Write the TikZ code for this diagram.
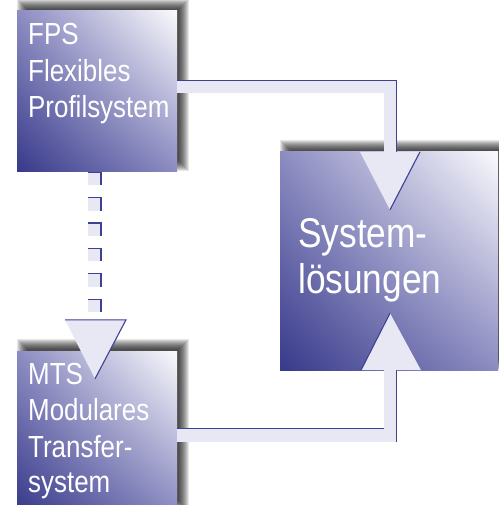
\documentclass[tikz,border=0pt]{standalone}
\usepackage{fontspec}
\newfontfamily\narrowsans[FakeStretch=0.85]{Liberation Sans}
\usetikzlibrary{calc,backgrounds,shadings}
\definecolor{boxdark}{RGB}{56,58,138}
\definecolor{boxmid}{RGB}{140,140,194}
\definecolor{boxlight}{RGB}{250,250,253}
\definecolor{bandc}{RGB}{232,232,244}
\definecolor{edgec}{RGB}{62,64,148}
\begin{document}
\begin{tikzpicture}[x=1pt,y=-1pt,
  box/.style={rectangle, inner sep=0pt, shade, lower left=boxdark, upper right=boxlight, upper left=boxmid, lower right=boxmid},
  lbl/.style={text=white, font=\narrowsans\fontsize{30.5}{36}\selectfont, inner sep=0pt, anchor=base west},
  biglbl/.style={text=white, font=\narrowsans\fontsize{41.5}{46}\selectfont, inner sep=0pt, anchor=base west},
  band/.style={draw=bandc, line width=13pt, line cap=butt, line join=miter},
  edgeline/.style={draw=edgec, line width=1.1pt},
  arrowtri/.style={fill=bandc},
  shadowlayer/.style={fill=black, opacity=0.1},
]
\useasboundingbox (0,0) rectangle (498,505);

% boxes
\node[box, minimum width=160pt, minimum height=160pt] (fps) at (97,91) {};
\node[box, minimum width=160pt, minimum height=160pt] (mts) at (97,431) {};
\node[box, minimum width=218pt, minimum height=218pt] (sys) at (389,261) {};

% shadows
\begin{scope}[on background layer]
\foreach \n in {fps,mts,sys}{
  \foreach \d in {-6,...,4}{
    \fill[shadowlayer] ($(\n.south west)+(6+\d,-6-\d)$) rectangle ($(\n.north east)+(6-\d,-6+\d)$);
  }
}
\end{scope}

% connector FPS -> Systemloesungen
\draw[band] ($(fps.east)+(0,-4)$) -| ($(sys.north)+(1,0)$);
\draw[edgeline] ($(fps.east)+(0,-10.5)$) -| ($(sys.north)+(7.5,0)$);
\fill[arrowtri] ($(sys.north)+(-29,0)$) -- ($(sys.north)+(31,0)$) -- ($(sys.north)+(1,58)$) -- cycle;
\draw[edgeline] ($(sys.north)+(31,0)$) -- ($(sys.north)+(1,58)$);

% connector MTS -> Systemloesungen
\draw[band] ($(mts.east)+(0,4)$) -| ($(sys.south)+(1,0)$);
\draw[edgeline] ($(mts.east)+(0,-2.5)$) -- ($(sys.south |- 0,428.5)+(-5.5,0)$);
\draw[edgeline] ($(sys.south)+(7.5,0)$) -- ($(sys.south |- 0,441.5)+(7.5,0)$);
\fill[arrowtri] ($(sys.south)+(-28,0)$) -- ($(sys.south)+(32,0)$) -- ($(sys.south)+(1,-57)$) -- cycle;
\draw[edgeline] ($(sys.south)+(-28,0)$) -- ($(sys.south)+(1,-57)$);

% dotted connector FPS -> MTS
\foreach \i in {0,...,5}{
  \fill[bandc] ($(fps.south)+(-9,1+\i*25.4)$) rectangle ++(13,13);
  \draw[edgeline] ($(fps.south)+(-9,1+\i*25.4)$) -- ++(13,0) -- ++(0,13);
}
\fill[arrowtri] ($(mts.north)+(-32,-31)$) -- ($(mts.north)+(29,-31)$) -- ($(mts.north)+(-2,28)$) -- cycle;
\draw[edgeline] ($(mts.north)+(-32,-31)$) -- ($(mts.north)+(29,-31)$) -- ($(mts.north)+(-2,28)$);

% labels
\node[lbl] (fps1) at (28,45) {FPS};
\node[lbl] (fps2) at (28,82) {Flexibles};
\node[lbl] (fps3) at (28,118) {Profilsystem};
\node[lbl] (mts1) at (28,384) {MTS};
\node[lbl] (mts2) at (28,420) {Modulares};
\node[lbl] (mts3) at (28,457) {Transfer-};
\node[lbl] (mts4) at (28,492) {system};
\node[biglbl] (sys1) at (298,247) {System-};
\node[biglbl] (sys2) at (298,293) {lösungen};
\end{tikzpicture}
\end{document}
